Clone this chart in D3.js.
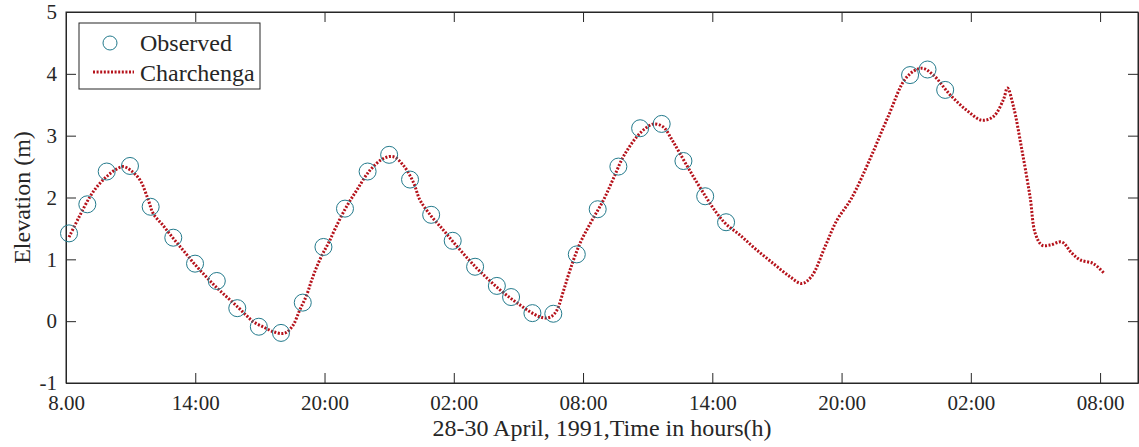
<!DOCTYPE html>
<html>
<head>
<meta charset="utf-8">
<script src="https://cdn.jsdelivr.net/npm/d3@7.9.0/dist/d3.min.js"></script>
<style>
  body { margin: 0; background: #fff; }
  text { font-family: "Liberation Serif", "Times New Roman", serif; fill: #262626; }
</style>
</head>
<body>
<div id="chart"></div>
<script>
// observed water levels (hours after 08:00 on 28 April)
const obsHours = [0.14, 0.99, 1.89, 2.97, 3.93, 4.98, 5.99, 7.0, 7.95, 8.95, 9.98, 10.99, 11.95, 12.95,
  14.0, 15.0, 15.97, 16.95, 17.95, 18.99, 20.0, 20.66, 21.65, 22.62, 23.71, 24.68, 25.64, 26.65,
  27.65, 28.66, 29.67, 30.64, 39.18, 39.99, 40.81];
const obsElev = [1.42, 1.89, 2.42, 2.51, 1.85, 1.35, 0.93, 0.65, 0.21, -0.09, -0.19, 0.30, 1.20, 1.82,
  2.42, 2.69, 2.29, 1.72, 1.30, 0.88, 0.57, 0.39, 0.13, 0.12, 1.08, 1.81, 2.50, 3.12,
  3.19, 2.59, 2.02, 1.60, 3.98, 4.07, 3.74];

// Charchenga model output
const modelHours = [0.14, 0.6, 1.11, 1.5, 1.89, 2.3, 2.66, 3.0, 3.44, 3.82, 4.05, 4.5, 5.0, 5.5, 6.0,
  6.5, 7.0, 7.5, 8.0, 8.35, 8.7, 9.2, 9.62, 10.0, 10.24, 10.55, 10.85, 11.17, 11.4, 11.64, 11.9,
  12.18, 12.5, 13.0, 13.5, 14.11, 14.73, 15.2, 15.66, 16.12, 16.43, 16.95, 17.5, 17.95, 18.5,
  19.0, 19.5, 20.0, 20.6, 21.0, 21.5, 22.0, 22.3, 22.55, 22.79, 23.1, 23.4, 23.86, 24.4, 24.95,
  25.4, 25.87, 26.49, 26.9, 27.27, 27.73, 28.1, 28.5, 29.1, 29.74, 30.2, 30.64, 31.29, 32.0,
  32.84, 33.6, 34.15, 34.6, 35.24, 35.78, 36.45, 37.33, 38.15, 39.03, 39.72, 40.26, 41.04,
  41.81, 42.51, 43.05, 43.51, 43.7, 43.98, 44.37, 44.75, 44.99, 45.3, 45.68, 46.22, 46.69,
  47.08, 47.69, 48.2];
const modelElev = [1.36, 1.68, 2.01, 2.2, 2.34, 2.45, 2.50, 2.44, 2.28, 1.96, 1.74, 1.55, 1.33, 1.12, 0.91,
  0.72, 0.54, 0.38, 0.22, 0.10, -0.01, -0.10, -0.17, -0.20, -0.18, -0.06, 0.18, 0.42, 0.66, 0.88, 1.08,
  1.26, 1.50, 1.84, 2.12, 2.44, 2.63, 2.66, 2.52, 2.25, 1.96, 1.70, 1.48, 1.29, 1.07,
  0.88, 0.71, 0.55, 0.38, 0.28, 0.16, 0.07, 0.05, 0.08, 0.18, 0.50, 0.83, 1.26, 1.62, 1.96,
  2.30, 2.66, 2.98, 3.12, 3.19, 3.14, 2.95, 2.71, 2.35, 1.99, 1.75, 1.57, 1.39, 1.17,
  0.93, 0.72, 0.61, 0.72, 1.21, 1.63, 1.98, 2.63, 3.3, 3.95, 4.09, 3.98, 3.66,
  3.41, 3.25, 3.31, 3.58, 3.77, 3.47, 2.77, 2.01, 1.42, 1.23, 1.23, 1.28, 1.10,
  0.99, 0.93, 0.77];

const xTickHours = [0, 6, 12, 18, 24, 30, 36, 42, 48];
const xTickLabels = ["8.00", "14:00", "20:00", "02:00", "08:00", "14:00", "20:00", "02:00", "08:00"];
const yTicks = [-1, 0, 1, 2, 3, 4, 5];

const margin = {top: 12, right: 1, bottom: 64, left: 66},
    width = 1139 - margin.left - margin.right,
    height = 447 - margin.top - margin.bottom;

const svg = d3.select("#chart")
  .append("svg")
    .attr("width", 1139)
    .attr("height", 447)
  .append("g")
    .attr("transform", `translate(${margin.left},${margin.top})`);

const x = d3.scaleLinear().domain([0, 49.76]).range([0, width]);
const y = d3.scaleLinear().domain([-1, 5]).range([height, 0]);

const axisColor = "#262626";

// axes with inward ticks, mirrored on top / right
svg.append("g")
    .attr("transform", `translate(0,${height})`)
    .call(d3.axisBottom(x).tickValues(xTickHours)
      .tickFormat((d, i) => xTickLabels[i])
      .tickSizeInner(-10).tickSizeOuter(0).tickPadding(12))
    .style("font-size", "21px");
svg.append("g")
    .call(d3.axisTop(x).tickValues(xTickHours).tickFormat("")
      .tickSizeInner(-10).tickSizeOuter(0));
svg.append("g")
    .call(d3.axisLeft(y).tickValues(yTicks).tickFormat(d => String(d))
      .tickSizeInner(-10).tickSizeOuter(0).tickPadding(9))
    .style("font-size", "21px");
svg.append("g")
    .attr("transform", `translate(${width},0)`)
    .call(d3.axisRight(y).tickValues(yTicks).tickFormat("")
      .tickSizeInner(-10).tickSizeOuter(0));

svg.selectAll(".domain").attr("stroke", axisColor);
svg.selectAll(".tick line").attr("stroke", axisColor);
svg.selectAll(".tick text").attr("fill", axisColor).style("font-family", "'Liberation Serif', serif");

svg.append("rect")
    .attr("width", width).attr("height", height)
    .attr("fill", "none").attr("stroke", axisColor).attr("stroke-width", 1);

// model line (dotted red)
const model = modelHours.map((h, i) => [h, modelElev[i]]);
const line = d3.line()
    .x(d => x(d[0]))
    .y(d => y(d[1]))
    .curve(d3.curveCatmullRom.alpha(0.5));

svg.append("path")
    .datum(model)
    .attr("d", line)
    .attr("fill", "none")
    .attr("stroke", "#b5121b")
    .attr("stroke-width", 3)
    .attr("stroke-dasharray", "2 1.6");

// observed circles
svg.selectAll("circle.obs")
    .data(obsHours.map((h, i) => [h, obsElev[i]]))
    .join("circle")
      .attr("class", "obs")
      .attr("cx", d => x(d[0]))
      .attr("cy", d => y(d[1]))
      .attr("r", 8.5)
      .attr("fill", "none")
      .attr("stroke", "#237a8c")
      .attr("stroke-width", 1);

// legend
const legend = svg.append("g").attr("transform", "translate(13,11)");
legend.append("rect")
    .attr("width", 181).attr("height", 66)
    .attr("fill", "#fff").attr("stroke", axisColor).attr("stroke-width", 1);
legend.append("circle")
    .attr("cx", 31).attr("cy", 20).attr("r", 7)
    .attr("fill", "none").attr("stroke", "#237a8c").attr("stroke-width", 1);
legend.append("text")
    .attr("x", 61).attr("y", 28)
    .style("font-size", "24px")
    .text("Observed");
legend.append("line")
    .attr("x1", 14).attr("x2", 55).attr("y1", 49).attr("y2", 49)
    .attr("stroke", "#b5121b").attr("stroke-width", 3)
    .attr("stroke-dasharray", "2 1.6");
legend.append("text")
    .attr("x", 61).attr("y", 58)
    .style("font-size", "24px")
    .text("Charchenga");

// axis titles
svg.append("text")
    .attr("x", width / 2)
    .attr("y", height + 53)
    .attr("text-anchor", "middle")
    .style("font-size", "24px")
    .text("28-30 April, 1991,Time in hours(h)");
svg.append("text")
    .attr("transform", `translate(${-36},${height / 2}) rotate(-90)`)
    .attr("text-anchor", "middle")
    .style("font-size", "24px")
    .text("Elevation (m)");
</script>
</body>
</html>
